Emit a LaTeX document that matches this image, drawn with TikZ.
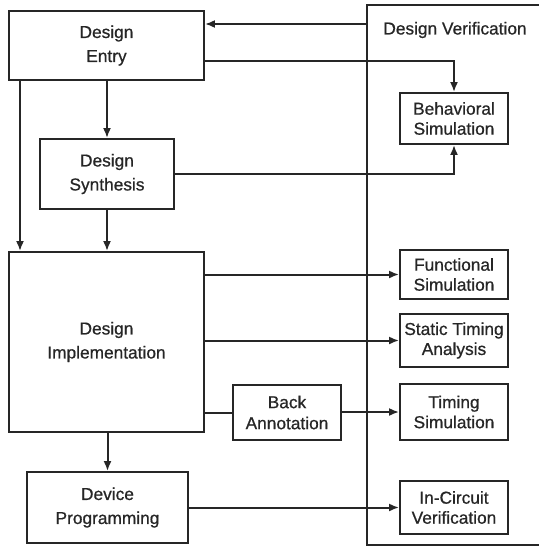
\documentclass[tikz,border=0pt]{standalone}
\usepackage{fontspec}
\setmainfont{Liberation Sans}
\newfontfamily\dfont{Liberation Sans}[FakeBold=0.7]
\usetikzlibrary{arrows.meta}
\definecolor{ink}{gray}{0.15}
\begin{document}
\begin{tikzpicture}[x=1pt,y=-1pt,
  box/.style={draw=ink, line width=1.8pt, inner sep=0pt, align=center, text=ink,
     font=\dfont\fontsize{17.3}{24}\selectfont},
  vbox/.style={box, font=\dfont\fontsize{17.3}{20}\selectfont},
  link/.style={draw=ink, line width=2pt},
  arr/.style={link, -{Latex[length=10pt,width=8pt]}}]
\useasboundingbox (0,0) rectangle (538,548);
\fill[white] (0,0) rectangle (538,548);
% verification frame (open on the right, beyond the page)
\node[draw=ink, line width=1.6pt, minimum width=200pt, minimum height=540pt, inner sep=0pt]
  (ver) at (467,275) {};
\node[text=ink, font=\dfont\fontsize{17.3}{20}\selectfont] (vlabel) at (455,30) {Design Verification};
% design flow
\node[box, minimum width=195pt, minimum height=69pt] (entry) at (106.5,45.5) {Design\\Entry};
\node[box, minimum width=134pt, minimum height=70pt] (syn) at (107,174) {Design\\Synthesis};
\node[box, minimum width=195pt, minimum height=180pt] (impl) at (106.5,342) {Design\\Implementation};
\node[box, minimum width=161pt, minimum height=71pt] (dev) at (107.5,507.5) {Device\\Programming};
\node[box, minimum width=108pt, minimum height=55pt, font=\dfont\fontsize{17.3}{21}\selectfont] (back) at (287,412.5) {Back\\Annotation};
% verification boxes
\node[vbox, minimum width=108pt, minimum height=51pt] (beh) at (454,118.5) {Behavioral\\Simulation};
\node[vbox, minimum width=108pt, minimum height=49pt] (func) at (454,274.5) {Functional\\Simulation};
\node[vbox, minimum width=108pt, minimum height=53pt] (sta) at (454,340.5) {Static Timing\\Analysis};
\node[vbox, minimum width=108pt, minimum height=56pt] (tsim) at (454,412) {Timing\\Simulation};
\node[vbox, minimum width=108pt, minimum height=53pt] (icv) at (454,507.5) {In-Circuit\\Verification};
% connectors
\draw[arr] (ver.west |- 0,24) -- (entry.east |- 0,24);
\draw[arr] (entry.east |- 0,61) -| (beh.north);
\draw[arr] (syn.east) -| (beh.south);
\draw[arr] (entry.south -| 20,0) -- (impl.north -| 20,0);
\draw[arr] (entry.south -| syn.north) -- (syn.north);
\draw[arr] (syn.south) -- (impl.north -| syn.south);
\draw[arr] (impl.east |- func.west) -- (func.west);
\draw[arr] (impl.east |- sta.west) -- (sta.west);
\draw[link] (impl.east |- back.west) -- (back.west);
\draw[arr] (back.east |- tsim.west) -- (tsim.west);
\draw[arr] (impl.south -| dev.north) -- (dev.north);
\draw[arr] (dev.east) -- (icv.west);
\end{tikzpicture}
\end{document}
